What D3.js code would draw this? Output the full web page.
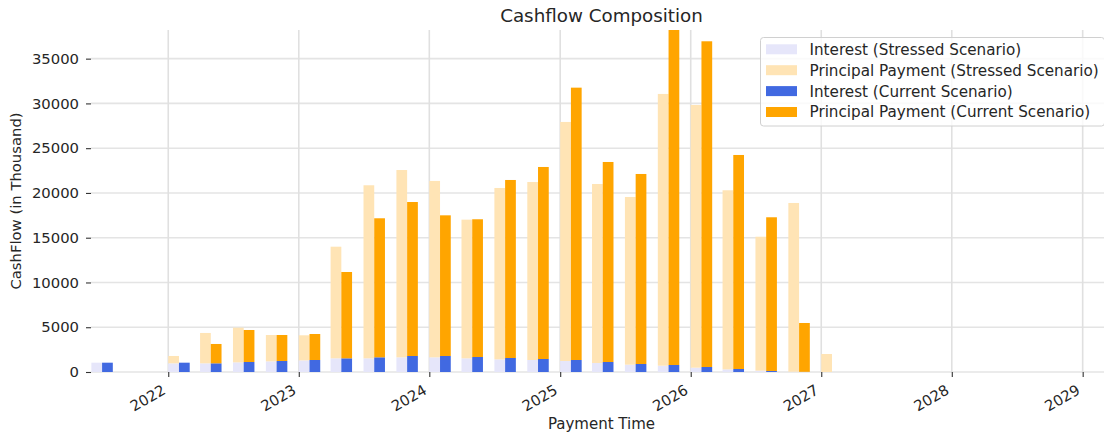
<!DOCTYPE html>
<html><head><meta charset="utf-8">
<script src="https://cdn.jsdelivr.net/npm/d3@7"></script>
<style>body{margin:0;background:#fff;overflow:hidden} text{font-family:"DejaVu Sans",sans-serif}</style>
</head><body><svg id="c" width="1104" height="436"></svg>
<script>
const paymentDates = ["2021-06-30","2022-01-31","2022-04-30","2022-07-31","2022-10-31","2023-01-31","2023-04-30","2023-07-31","2023-10-31","2024-01-31","2024-04-30","2024-07-31","2024-10-31","2025-01-31","2025-04-30","2025-07-31","2025-10-31","2026-01-31","2026-04-30","2026-07-31","2026-10-31","2027-01-31"];
const stressedInterest  = [1040, 970, 970,1080,1190,1300,1527,1527,1640,1640,1527,1415,1340,1229,1005, 820, 708, 485, 298, 150,  30,   0];
const stressedPrincipal = [   0, 820,3390,3870,2940,2800,12470,19330,20920,19700,15490,19140,19880,26700,19995,18730,30350,29340,20000,14960,18850,2010];
const currentInterest   = [1040,1040, 970,1117,1229,1340,1527,1640,1787,1787,1676,1564,1452,1340,1117, 894, 782, 559, 335, 112,  20,   0];
const currentPrincipal  = [   0,   0,2160,3575,2904,2905,9643,15530,17200,15713,15384,19884,21448,30420,22341,21224,37420,36380,23905,17170,5454,   0];
const yTickValues = [0,5000,10000,15000,20000,25000,30000,35000];
const xTickYears = [2022,2023,2024,2025,2026,2027,2028,2029];
const seriesNames = ["Interest (Stressed Scenario)","Principal Payment (Stressed Scenario)","Interest (Current Scenario)","Principal Payment (Current Scenario)"];
const seriesColors = ["#e6e6fa","#ffe4b5","#4169e1","#ffa500"];
const chartTitle = "Cashflow Composition";
const xLabel = "Payment Time";
const yLabel = "CashFlow (in Thousand)";

const parse = d3.utcParse("%Y-%m-%d");
const L = 91, R = 1112, T = 30, B = 372;
const x = d3.scaleUtc().domain([parse("2021-05-30"), parse("2029-03-24")]).range([L, R]);
const y = d3.scaleLinear().domain([0, 38200]).range([B, T]);
const svg = d3.select("#c");
const txt = "#262626";
const fs = 14.8;

svg.append("defs").append("clipPath").attr("id","clip").append("rect")
  .attr("x",L).attr("y",T).attr("width",R-L).attr("height",B-T);

// gridlines
const g = svg.append("g");
g.selectAll(".hg").data(yTickValues).join("line")
  .attr("x1",L).attr("x2",R).attr("y1",d=>y(d)).attr("y2",d=>y(d))
  .attr("stroke","#e4e4e4").attr("stroke-width",1.6);
const yearDates = xTickYears.map(yr => new Date(Date.UTC(yr,0,1)));
g.selectAll(".vg").data(yearDates).join("line")
  .attr("x1",d=>x(d)).attr("x2",d=>x(d)).attr("y1",T).attr("y2",B)
  .attr("stroke","#e0e0e0").attr("stroke-width",1.6);

// bars
const rows = paymentDates.map((d,i)=>({
  date: parse(d),
  si: stressedInterest[i], sp: stressedPrincipal[i],
  ci: currentInterest[i], cp: currentPrincipal[i]
}));
const bars = svg.append("g").attr("clip-path","url(#clip)");
function drawBars(cls, x0f, x1f, base, val, color) {
  bars.selectAll("."+cls).data(rows).join("rect").attr("class",cls)
    .attr("x", d=>x(x0f(d.date))).attr("width", d=>x(x1f(d.date))-x(x0f(d.date)))
    .attr("y", d=>y(base(d)+val(d))).attr("height", d=>Math.max(0, y(base(d)) - y(base(d)+val(d))))
    .attr("fill", color);
}
const back = dt => d3.utcDay.offset(dt,-30), same = dt => dt, fwd = dt => d3.utcDay.offset(dt,30);
drawBars("si", back, same, d=>0, d=>d.si, seriesColors[0]);
drawBars("sp", back, same, d=>d.si, d=>d.sp, seriesColors[1]);
drawBars("ci", same, fwd, d=>0, d=>d.ci, seriesColors[2]);
drawBars("cp", same, fwd, d=>d.ci, d=>d.cp, seriesColors[3]);

// y axis
const ya = svg.append("g").attr("transform",`translate(${L},0)`)
  .call(d3.axisLeft(y).tickValues(yTickValues).tickSize(5).tickPadding(7).tickFormat(d3.format("d")));
ya.select(".domain").remove();
ya.selectAll("line").attr("stroke","#333").attr("stroke-width",1.1);
ya.selectAll("text").attr("font-size",fs).attr("fill",txt).attr("font-family","DejaVu Sans");

// x axis
const xa = svg.append("g").attr("transform",`translate(0,${B})`)
  .call(d3.axisBottom(x).tickValues(yearDates).tickSize(5).tickFormat(d3.utcFormat("%Y")));
xa.select(".domain").remove();
xa.selectAll("line").attr("stroke","#333").attr("stroke-width",1.1);
xa.selectAll("text").attr("font-size",fs).attr("fill",txt).attr("font-family","DejaVu Sans")
  .attr("text-anchor","end").attr("dy",null).attr("y",null)
  .attr("transform","translate(-2,21) rotate(-30)");

// labels
svg.append("text").attr("x",(L+R)/2).attr("y",21.5).attr("text-anchor","middle")
  .attr("font-size",18.3).attr("fill",txt).text(chartTitle);
svg.append("text").attr("x",(L+R)/2).attr("y",428.5).attr("text-anchor","middle")
  .attr("font-size",15).attr("fill",txt).text(xLabel);
svg.append("text").attr("transform",`translate(21,${(T+B)/2}) rotate(-90)`).attr("text-anchor","middle")
  .attr("font-size",fs).attr("fill",txt).text(yLabel);

// legend
const lg = svg.append("g");
lg.append("rect").attr("x",760.5).attr("y",37.5).attr("width",344).attr("height",88.5)
  .attr("rx",3).attr("fill","rgba(255,255,255,0.8)").attr("stroke","#d0d0d0").attr("stroke-width",1);
const items = lg.selectAll(".it").data(seriesNames).join("g")
  .attr("transform",(d,i)=>`translate(0,${49.3 + i*20.9})`);
items.append("rect").attr("x",766).attr("y",-5).attr("width",31).attr("height",10)
  .attr("fill",(d,i)=>seriesColors[i]);
items.append("text").attr("x",809.5).attr("y",5.4).attr("font-size",15.2).attr("fill",txt).text(d=>d);
</script></body></html>
